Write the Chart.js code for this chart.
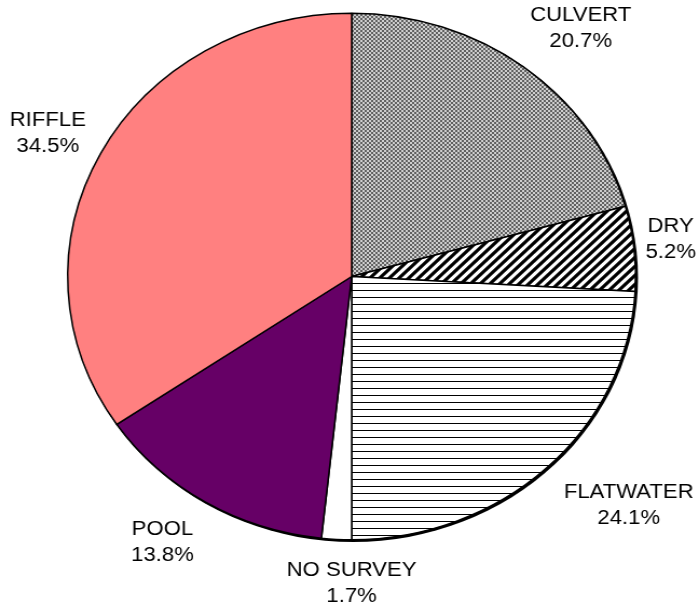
<!DOCTYPE html>
<html>
<head>
<meta charset="utf-8">
<script src="https://cdn.jsdelivr.net/npm/chart.js@4.4.1/dist/chart.umd.min.js"></script>
<style>
  html, body { margin: 0; padding: 0; background: #fff; overflow: hidden; }
  #wrap { width: 648px; height: 607px; transform: scaleX(1.0787); transform-origin: 0 0; }
  canvas { display: block; }
</style>
</head>
<body>
<div id="wrap"><canvas id="pie" width="648" height="607"></canvas></div>
<script>
// Habitat share along the surveyed reach (percent of length)
const categories = ['CULVERT', 'DRY', 'FLATWATER', 'NO SURVEY', 'POOL', 'RIFFLE'];
const shares = [20.7, 5.2, 24.1, 1.7, 13.8, 34.5];

// Label block offsets from the slice's outer edge at its mid-angle (layout only)
const labelNudge = [[53, -39], [34, -9], [76, 38], [14, 44], [-40, 40], [-49, -20]];

function makePattern(w, h, paint) {
  const c = document.createElement('canvas');
  c.width = w; c.height = h;
  const g = c.getContext('2d');
  paint(g, w, h);
  return g.createPattern(c, 'repeat');
}

const ctx0 = document.getElementById('pie').getContext('2d');

// fine grey checker
const checker = makePattern(4, 4, (g) => {
  g.fillStyle = '#cfcfcf'; g.fillRect(0, 0, 4, 4);
  g.fillStyle = '#606060';
  g.fillRect(0, 0, 2, 2); g.fillRect(2, 2, 2, 2);
});
// wide diagonal stripes
const diagonal = makePattern(9, 9, (g) => {
  g.fillStyle = '#ffffff'; g.fillRect(0, 0, 9, 9);
  g.strokeStyle = '#000000'; g.lineWidth = 3.2;
  g.beginPath();
  for (let k = -1; k <= 1; k++) {
    g.moveTo(-2 + k * 9, 11); g.lineTo(11 + k * 9, -2);
  }
  g.stroke();
});
// horizontal rules
const horizontal = makePattern(8, 7, (g) => {
  g.fillStyle = '#ffffff'; g.fillRect(0, 0, 8, 7);
  g.fillStyle = '#000000'; g.fillRect(0, 3, 8, 1);
});

const fills = [checker, diagonal, horizontal, '#ffffff', '#660066', '#ff8080'];

const shadowPlugin = {
  id: 'pieShadow',
  beforeDatasetsDraw(chart) {
    const arc = chart.getDatasetMeta(0).data[0];
    const c = chart.ctx;
    c.save();
    c.fillStyle = '#000';
    c.beginPath();
    c.arc(arc.x + 1.4, arc.y + 1.4, arc.outerRadius + 0.8, 0, Math.PI * 2);
    c.fill();
    c.restore();
  }
};

const labelPlugin = {
  id: 'outsideLabels',
  afterDatasetsDraw(chart) {
    const meta = chart.getDatasetMeta(0);
    const c = chart.ctx;
    c.save();
    c.font = '20.5px "Liberation Sans", Arial, sans-serif';
    c.fillStyle = '#000';
    c.textAlign = 'center';
    c.textBaseline = 'middle';
    meta.data.forEach((arc, i) => {
      const mid = (arc.startAngle + arc.endAngle) / 2;
      const ex = arc.x + arc.outerRadius * Math.cos(mid);
      const ey = arc.y + arc.outerRadius * Math.sin(mid);
      const cx = ex + labelNudge[i][0];
      const cy = ey + labelNudge[i][1];
      c.fillText(categories[i], cx, cy - 13);
      c.fillText(shares[i].toFixed(1) + '%', cx, cy + 13);
    });
    c.restore();
  }
};

new Chart(ctx0, {
  type: 'pie',
  data: {
    labels: categories,
    datasets: [{
      data: shares,
      backgroundColor: fills,
      borderColor: '#000000',
      borderWidth: 1.5,
      hoverOffset: 0
    }]
  },
  options: {
    responsive: false,
    animation: false,
    devicePixelRatio: 1,
    layout: { padding: { left: 62, right: 58, top: 12.5, bottom: 66.5 } },
    plugins: {
      legend: { display: false },
      tooltip: { enabled: false }
    }
  },
  plugins: [shadowPlugin, labelPlugin]
});
</script>
</body>
</html>
